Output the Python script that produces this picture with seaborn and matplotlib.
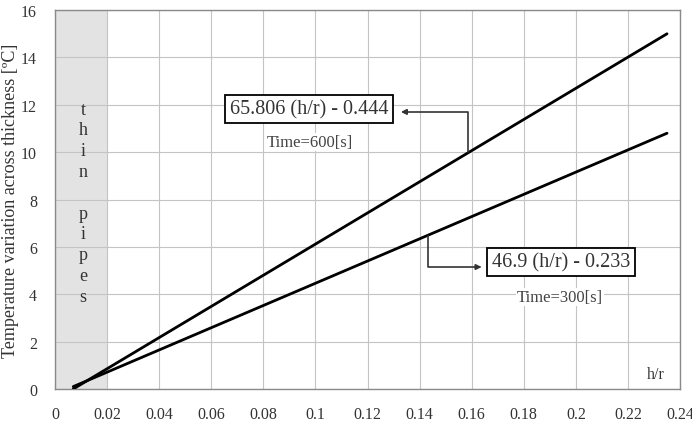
import numpy as np
import pandas as pd
import seaborn as sns
import matplotlib.pyplot as plt

# values
hr = [0.007, 0.235]
dt_600 = [0.0, 15.0]
dt_300 = [0.1, 10.8]
x_ticks = [0, 0.02, 0.04, 0.06, 0.08, 0.1, 0.12, 0.14, 0.16, 0.18, 0.2, 0.22, 0.24]
x_labels = ["0", "0.02", "0.04", "0.06", "0.08", "0.1", "0.12", "0.14", "0.16", "0.18", "0.2", "0.22", "0.24"]
y_ticks = [0, 2, 4, 6, 8, 10, 12, 14, 16]

data = pd.DataFrame({
    "h/r": hr + hr,
    "dT": dt_600 + dt_300,
    "time": ["600"] * 2 + ["300"] * 2,
})

sns.set_style("white")
plt.rcParams['font.family'] = ['Liberation Serif', 'DejaVu Serif']

f = plt.figure(figsize=(6.92, 4.27), dpi=100)
ax = f.add_axes([0.0795, 0.0867, 0.9032, 0.8873])

ax.axvspan(0, 0.02, color="#e3e3e3", zorder=0, lw=0)

plot = sns.lineplot(data, x="h/r", y="dT", hue="time", palette=["black", "black"],
                    linewidth=2, legend=False, ax=ax, zorder=3)

ax.set_xlim(0, 0.24)
ax.set_ylim(0, 16)
ax.set_xticks(x_ticks)
ax.set_xticklabels(x_labels)
ax.set_yticks(y_ticks)
ax.grid(True, color="#c4c4c4", lw=0.8)
ax.set_axisbelow(True)
for s in ax.spines.values():
    s.set_color("#8a8a8a")
    s.set_linewidth(1)
ax.tick_params(labelsize=11.5, colors="#333333", length=4, color="#8a8a8a", direction="out")
ax.tick_params(axis="x", pad=8)
ax.tick_params(axis="y", pad=9)
ax.set_xlabel("")
ax.set_ylabel("Temperature variation across thickness [ºC]", fontsize=13, color="#333333")
ax.yaxis.set_label_coords(-0.057, 0.5)

# vertical "thin pipes" label
letters = ["t", "h", "i", "n", "", "p", "i", "p", "e", "s"]
for i, ch in enumerate(letters):
    ax.text(0.0108, 11.82 - i * 0.878, ch, ha="center", va="center", fontsize=13, color="#333333")

ax.text(0.234, 0.65, "h/r", ha="right", va="center", fontsize=11.5, color="#333333")

box = dict(boxstyle="square,pad=0.22", fc="white", ec="black", lw=1.3)
ax.text(0.0975, 11.82, "65.806 (h/r) - 0.444", ha="center", va="center",
        fontsize=14.5, color="#333333", bbox=box, zorder=5)
ax.text(0.0979, 10.43, "Time=600[s]", ha="center", va="center", fontsize=12,
        color="#444444", bbox=dict(fc="white", ec="none", pad=1), zorder=4)
ax.annotate("", xy=(0.1328, 11.70), xytext=(0.1586, 10.0),
            arrowprops=dict(arrowstyle="-|>", color="#333333", lw=1.2, mutation_scale=8,
                            shrinkA=0, shrinkB=0,
                            connectionstyle="angle,angleA=90,angleB=0,rad=0"), zorder=4)

ax.text(0.1943, 5.36, "46.9 (h/r) - 0.233", ha="center", va="center",
        fontsize=14.5, color="#333333", bbox=box, zorder=5)
ax.text(0.1939, 3.88, "Time=300[s]", ha="center", va="center", fontsize=12,
        color="#444444", bbox=dict(fc="white", ec="none", pad=1), zorder=4)
ax.annotate("", xy=(0.1638, 5.15), xytext=(0.1432, 6.48),
            arrowprops=dict(arrowstyle="-|>", color="#333333", lw=1.2, mutation_scale=8,
                            shrinkA=0, shrinkB=0,
                            connectionstyle="angle,angleA=90,angleB=0,rad=0"), zorder=4)

f.savefig("out.png", dpi=100)
